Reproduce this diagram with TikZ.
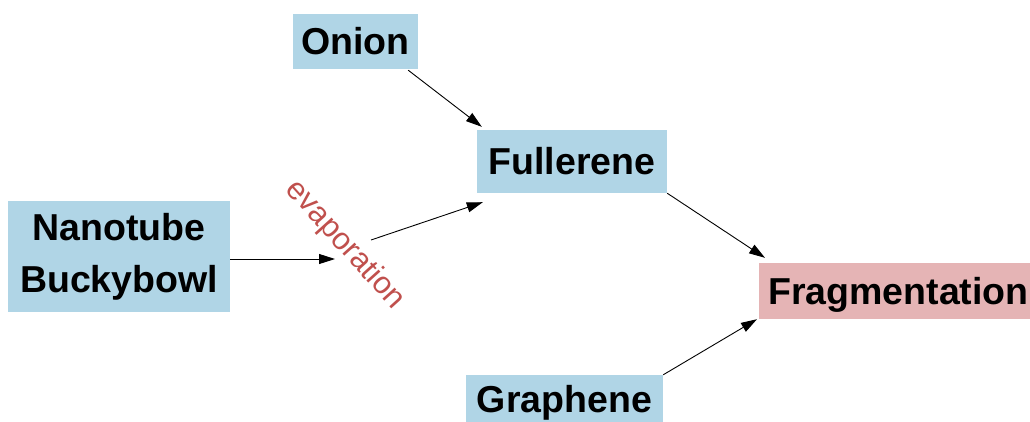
\documentclass[tikz,border=0pt]{standalone}
\usepackage{fontspec}
\setmainfont{Liberation Sans}
\usetikzlibrary{arrows.meta}
\definecolor{boxblue}{RGB}{176,213,230}
\definecolor{boxpink}{RGB}{229,180,181}
\definecolor{evapred}{RGB}{192,80,77}
\tikzset{
  box/.style={fill=boxblue, draw=none, inner sep=0pt, align=center,
    font=\fontsize{37.5}{52}\selectfont\bfseries, text height=29pt, text depth=3pt},
  fragbox/.style={box, fill=boxpink, inner xsep=9pt, inner ysep=0pt, minimum height=56pt},
  link/.style={draw=black, line width=0.9pt, -{Triangle[length=16pt,width=10pt]}},
  evaplabel/.style={text=evapred, font=\fontsize{31}{36}\selectfont, inner sep=0pt}
}
\begin{document}
\begin{tikzpicture}[x=1pt,y=-1pt]
\useasboundingbox[fill=white] (0,0) rectangle (1030,421);
\node[box, minimum width=125pt, minimum height=55pt] (onion) at (355.5,41.5) {Onion};
\node[box, minimum width=190pt, minimum height=63pt] (fullerene) at (572,161.5) {Fullerene};
\node[box, minimum width=222pt, minimum height=111pt, text height=, text depth=] (nano) at (119,256.5) {Nanotube\\Buckybowl};
\node[fragbox, anchor=west] (frag) at (759,291) {Fragmentation};
\node[box, minimum width=197pt, minimum height=48pt] (graphene) at (564.5,399) {Graphene};
\node[evaplabel, rotate=-48] (evap) at (345,245) {evaporation};
\coordinate (e1) at (335,259);
\coordinate (e2) at (371,240);
\draw[link] ([yshift=-2.5pt]nano.east) -- (e1);
\draw[link] (e2) -- ([shift={(6,9)}]fullerene.south west);
\draw[link] ([shift={(-10,1)}]onion.south east) -- ([shift={(5,-3)}]fullerene.north west);
\draw[link] (fullerene.south east) -- ([shift={(6,-5)}]frag.north west);
\draw[link] (graphene.north east) -- ([shift={(-2,0)}]frag.south west);
\end{tikzpicture}
\end{document}
